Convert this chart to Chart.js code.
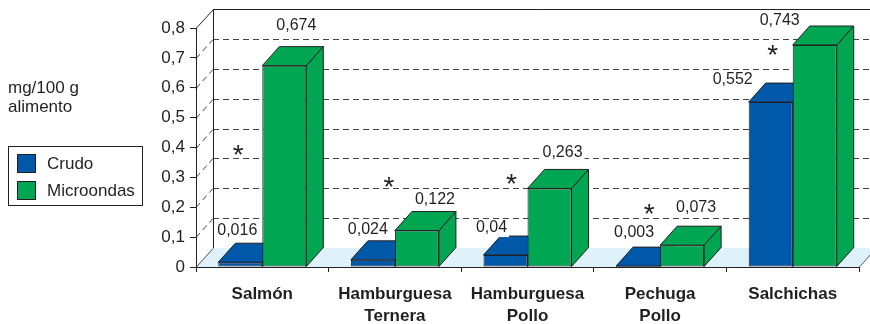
<!DOCTYPE html>
<html>
<head>
<meta charset="utf-8">
<script src="https://cdn.jsdelivr.net/npm/chart.js@4/dist/chart.umd.min.js"></script>
<style>
  body { margin: 0; background: #fff; }
  #wrap { width: 870px; height: 324px; position: relative; }
</style>
</head>
<body>
<div id="wrap"><canvas id="myChart"></canvas></div>
<script>
const categorias = ['Salmón', ['Hamburguesa', 'Ternera'], ['Hamburguesa', 'Pollo'], ['Pechuga', 'Pollo'], 'Salchichas'];
const crudo = [0.016, 0.024, 0.04, 0.003, 0.552];
const microondas = [0.674, 0.122, 0.263, 0.073, 0.743];
const significativo = [true, true, true, true, true];
const ejeTitulo = ['mg/100 g', 'alimento'];

const AZUL = '#0058a9';
const VERDE = '#00a651';
const TINTA = '#231f20';
const FUENTE = '"Liberation Sans", Arial, sans-serif';

// profundidad de la perspectiva
const DX = 17, DY = -19;

// donde va cada etiqueta de valor respecto a la cara frontal de su barra
const desplaz = [
  [[-3, -32], [-5, -30], [-14, -27], [-4, -34], [-38, -22]],
  [[12, -40], [18, -31], [13, -36], [14, -38], [-35, -24]]
];
// asteriscos: desplazamiento x desde el centro de la categoria y altura en unidades del eje
const asteriscos = [[-24, 0.40], [-6, 0.29], [-16, 0.30], [-11, 0.20], [-20, 0.733]];

const coma = v => String(v).replace('.', ',');

function poli(ctx, pts, fill, stroke) {
  ctx.beginPath();
  ctx.moveTo(pts[0][0], pts[0][1]);
  for (let i = 1; i < pts.length; i++) ctx.lineTo(pts[i][0], pts[i][1]);
  ctx.closePath();
  if (fill) { ctx.fillStyle = fill; ctx.fill(); }
  if (stroke) { ctx.strokeStyle = stroke; ctx.lineWidth = 1; ctx.stroke(); }
}

const caja3d = {
  id: 'caja3d',
  beforeDraw(chart) {
    const ctx = chart.ctx;
    const a = chart.chartArea;
    const y = chart.scales.y;
    const top = y.getPixelForValue(0.8), bot = y.getPixelForValue(0);
    ctx.save();
    // suelo
    poli(ctx, [[a.left, bot], [a.left + DX, bot + DY], [a.right + DX, bot + DY], [a.right, bot]], '#dff1fb', null);
    ctx.strokeStyle = '#555';
    ctx.lineWidth = 1;
    ctx.beginPath();
    ctx.moveTo(a.left, bot + 0.5); ctx.lineTo(a.left + DX, bot + DY + 0.5);
    ctx.moveTo(a.right, bot + 0.5); ctx.lineTo(a.right + DX, bot + DY + 0.5);
    ctx.stroke();
    // lineas discontinuas de la pared lateral y del fondo
    ctx.setLineDash([6, 4]);
    ctx.strokeStyle = '#444';
    y.ticks.forEach(t => {
      if (t.value <= 0 || t.value >= 0.8) return;
      const py = Math.round(y.getPixelForValue(t.value)) + 0.5;
      ctx.beginPath();
      ctx.moveTo(a.left, py); ctx.lineTo(a.left + DX, py + DY);
      ctx.moveTo(a.left + DX, py + DY); ctx.lineTo(chart.width, py + DY);
      ctx.stroke();
    });
    ctx.setLineDash([]);
    ctx.strokeStyle = TINTA;
    ctx.beginPath();
    const lx = a.left + DX + 0.5;
    ctx.moveTo(a.left, top + 0.5); ctx.lineTo(lx, top + DY + 0.5);
    ctx.lineTo(chart.width, top + DY + 0.5);
    ctx.moveTo(lx, top + DY); ctx.lineTo(lx, bot + DY);
    ctx.stroke();
    ctx.restore();
  },
  beforeDatasetsDraw(chart) {
    const ctx = chart.ctx;
    ctx.save();
    const n = chart.data.labels.length;
    for (let i = 0; i < n; i++) {
      chart.data.datasets.forEach((ds, d) => {
        const b = chart.getDatasetMeta(d).data[i];
        const l = b.x - b.width / 2, r = b.x + b.width / 2, t = b.y, base = b.base;
        poli(ctx, [[r, t], [r + DX, t + DY], [r + DX, base + DY], [r, base]], ds.backgroundColor, TINTA);
        poli(ctx, [[l, t], [r, t], [r + DX, t + DY], [l + DX, t + DY]], ds.backgroundColor, TINTA);
      });
    }
    ctx.restore();
  },
  afterDatasetsDraw(chart) {
    const ctx = chart.ctx;
    const y = chart.scales.y, x = chart.scales.x;
    ctx.save();
    ctx.font = '16px ' + FUENTE;
    ctx.textAlign = 'center';
    ctx.textBaseline = 'middle';
    chart.data.datasets.forEach((ds, d) => {
      chart.getDatasetMeta(d).data.forEach((b, i) => {
        const txt = coma(ds.data[i]);
        const px = b.x + desplaz[d][i][0], py = b.y + desplaz[d][i][1];
        const w = ctx.measureText(txt).width;
        ctx.fillStyle = '#fff';
        ctx.fillRect(px - w / 2 - 2, py - 9, w + 4, 18);
        ctx.fillStyle = TINTA;
        ctx.fillText(txt, px, py);
      });
    });
    ctx.font = '28px ' + FUENTE;
    ctx.textBaseline = 'alphabetic';
    significativo.forEach((s, i) => {
      if (!s) return;
      const px = x.getPixelForValue(i) + asteriscos[i][0];
      const py = y.getPixelForValue(asteriscos[i][1]);
      ctx.fillText('*', px, py + 16);
    });
    ctx.restore();
  },
  afterDraw(chart) {
    const ctx = chart.ctx;
    ctx.save();
    ctx.fillStyle = TINTA;
    ctx.font = '17px ' + FUENTE;
    ctx.textBaseline = 'middle';
    ctx.textAlign = 'left';
    ctx.fillText(ejeTitulo[0], 8, 88);
    ctx.fillText(ejeTitulo[1], 8, 107);
    // leyenda
    ctx.strokeStyle = TINTA;
    ctx.lineWidth = 1;
    ctx.strokeRect(8.5, 146.5, 134, 59);
    chart.data.datasets.forEach((ds, d) => {
      const cy = 164 + d * 27;
      ctx.fillStyle = ds.backgroundColor;
      ctx.fillRect(17.5, cy - 9.5, 18, 18);
      ctx.strokeRect(17.5, cy - 9.5, 18, 18);
      ctx.fillStyle = TINTA;
      ctx.fillText(ds.label, 47, cy);
    });
    ctx.restore();
  }
};

new Chart(document.getElementById('myChart').getContext('2d'), {
  type: 'bar',
  data: {
    labels: categorias,
    datasets: [
      { label: 'Crudo', data: crudo, backgroundColor: AZUL },
      { label: 'Microondas', data: microondas, backgroundColor: VERDE }
    ]
  },
  options: {
    responsive: true,
    maintainAspectRatio: false,
    animation: false,
    devicePixelRatio: 1,
    layout: { padding: { top: 28, right: 11, left: 0, bottom: 0 } },
    datasets: {
      bar: {
        categoryPercentage: 0.664,
        barPercentage: 1,
        borderColor: TINTA,
        borderWidth: 1,
        borderSkipped: false
      }
    },
    plugins: {
      legend: { display: false },
      tooltip: { enabled: false }
    },
    scales: {
      y: {
        min: 0,
        max: 0.8,
        afterFit: s => { s.width = 196; },
        ticks: {
          stepSize: 0.1,
          color: TINTA,
          padding: 5,
          font: { family: FUENTE, size: 17 },
          callback: v => coma(Math.round(v * 10) / 10)
        },
        grid: { drawOnChartArea: false, tickLength: 6, color: TINTA },
        border: { color: TINTA, width: 1 }
      },
      x: {
        afterFit: s => { s.height = 57; },
        ticks: {
          color: TINTA,
          padding: 12,
          font: { family: FUENTE, size: 17, weight: 'bold', lineHeight: 1.25 }
        },
        grid: { drawOnChartArea: false, tickLength: 5, color: TINTA, offset: true },
        border: { color: TINTA, width: 1 }
      }
    }
  },
  plugins: [caja3d]
});
</script>
</body>
</html>
